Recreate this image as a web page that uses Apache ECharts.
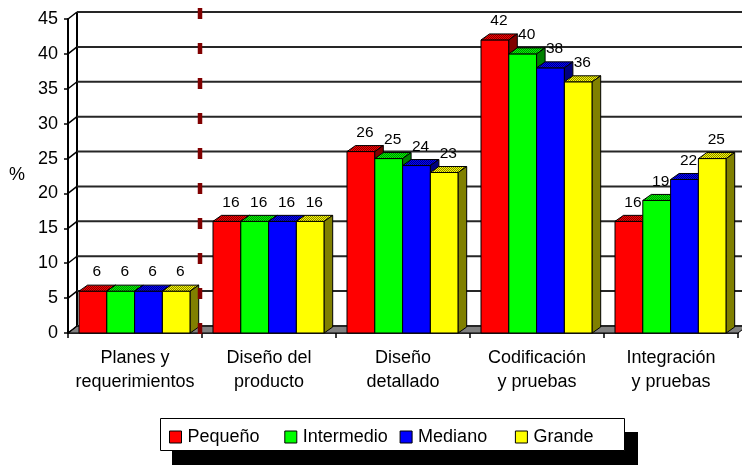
<!DOCTYPE html>
<html>
<head>
<meta charset="utf-8">
<script src="https://cdn.jsdelivr.net/npm/echarts@6/dist/echarts.min.js"></script>
<style>
  html, body { margin: 0; padding: 0; background: #fff; }
  #chart { width: 742px; height: 465px; }
</style>
</head>
<body>
<div id="chart"></div>
<script>
// Phases of the development cycle and the share of effort (%) by project size
const categories = [
  'Planes y\nrequerimientos',
  'Diseño del\nproducto',
  'Diseño\ndetallado',
  'Codificación\ny pruebas',
  'Integración\ny pruebas'
];
const seriesNames = ['Pequeño', 'Intermedio', 'Mediano', 'Grande'];
const pequeno    = [6, 16, 26, 42, 16];
const intermedio = [6, 16, 25, 40, 19];
const mediano    = [6, 16, 24, 38, 22];
const grande     = [6, 16, 23, 36, 25];
const yTicks     = [0, 5, 10, 15, 20, 25, 30, 35, 40, 45];
const dividerAfter = 0; // dashed marker sits after this phase

const seriesValues = [pequeno, intermedio, mediano, grande];

const FONT = '"Liberation Sans", Arial, sans-serif';
const faceColors  = ['#ff0000', '#00ff00', '#0000ff', '#ffff00'];
const shadeColors = ['#800000', '#008000', '#000080', '#808000'];
const WALL_DX = 9, WALL_DY = -7;   // depth of the back wall
const BAR_DX = 8.5, BAR_DY = -6;   // depth of each column
const GAP_FRAC = 11 / 134, BAR_FRAC = 27.8 / 134;
const LEGEND_LEFT = 169, LEGEND_SLOT = 115.3;

// Checkered fill for the column tops
function dither(light, dark) {
  const c = document.createElement('canvas');
  c.width = 2; c.height = 2;
  const g = c.getContext('2d');
  g.fillStyle = light; g.fillRect(0, 0, 2, 2);
  g.fillStyle = dark; g.fillRect(0, 0, 1, 1); g.fillRect(1, 1, 1, 1);
  return { image: c, repeat: 'repeat' };
}

function barRenderer(k) {
  const topFill = dither(faceColors[k], shadeColors[k]);
  return function (params, api) {
    const ci = api.value(0), v = api.value(1);
    const base = api.coord([ci, 0]);
    const head = api.coord([ci, v]);
    const cw = api.size([1, 0])[0];
    const w = cw * BAR_FRAC;
    const x = base[0] - cw / 2 + cw * GAP_FRAC + k * w;
    const y0 = base[1], y1 = head[1];
    const edge = { stroke: '#000', lineWidth: 1 };
    return {
      type: 'group',
      children: [
        { type: 'rect', shape: { x: x, y: y1, width: w, height: y0 - y1 },
          style: Object.assign({ fill: faceColors[k] }, edge) },
        { type: 'polygon', shape: { points: [[x, y1], [x + w, y1], [x + w + BAR_DX, y1 + BAR_DY], [x + BAR_DX, y1 + BAR_DY]] },
          style: Object.assign({ fill: topFill }, edge) },
        { type: 'polygon', shape: { points: [[x + w, y1], [x + w + BAR_DX, y1 + BAR_DY], [x + w + BAR_DX, y0 + BAR_DY], [x + w, y0]] },
          style: Object.assign({ fill: shadeColors[k] }, edge) },
        { type: 'text', x: x + w / 2 + 4, y: y1 - 19,
          style: { text: String(v), fill: '#000', fontSize: 15.5, fontFamily: FONT, align: 'center', verticalAlign: 'middle' } }
      ]
    };
  };
}

// Back wall gridlines, side-wall connectors and the floor
function wallRenderer(params, api) {
  const t = api.value(1);
  const cs = params.coordSys;
  const x0 = cs.x, x1 = cs.x + cs.width;
  const y = api.coord([0, t])[1];
  const children = [];
  if (t === yTicks[0]) {
    const yTop = api.coord([0, yTicks[yTicks.length - 1]])[1];
    children.push({ type: 'polygon',
      shape: { points: [[x0, y], [x1, y], [x1 + WALL_DX, y + WALL_DY], [x0 + WALL_DX, y + WALL_DY]] },
      style: { fill: '#808080', stroke: '#000', lineWidth: 1 } });
    children.push({ type: 'line',
      shape: { x1: x0 + WALL_DX, y1: yTop + WALL_DY, x2: x0 + WALL_DX, y2: y + WALL_DY },
      style: { stroke: '#000', lineWidth: 2 } });
  }
  children.push({ type: 'line',
    shape: { x1: x0 + WALL_DX, y1: y + WALL_DY, x2: x1 + WALL_DX + 10, y2: y + WALL_DY },
    style: { stroke: '#262626', lineWidth: 2 } });
  children.push({ type: 'line',
    shape: { x1: x0, y1: y, x2: x0 + WALL_DX, y2: y + WALL_DY },
    style: { stroke: '#000', lineWidth: 1.5 } });
  return { type: 'group', children: children };
}

function dividerRenderer(params, api) {
  const ci = api.value(0);
  const cw = api.size([1, 0])[0];
  const x = api.coord([ci, 0])[0] + cw / 2 - 2;
  const yTop = api.coord([0, yTicks[yTicks.length - 1]])[1] - 11;
  const yBot = api.coord([0, 0])[1] + 7;
  return { type: 'line', shape: { x1: x, y1: yTop, x2: x, y2: yBot },
    style: { stroke: '#800000', lineWidth: 4.5, lineDash: [11, 24] } };
}

const chart = echarts.init(document.getElementById('chart'), null, { renderer: 'canvas' });

const series = [{
  name: 'wall', type: 'custom', z: 1, silent: true,
  data: yTicks.map(t => [0, t]),
  encode: { x: 0, y: 1 },
  renderItem: wallRenderer
}];
seriesValues.forEach((vals, k) => {
  series.push({
    name: seriesNames[k], type: 'custom', z: 2 + k,
    itemStyle: { color: faceColors[k] },
    data: vals.map((v, i) => [i, v]),
    encode: { x: 0, y: 1 },
    renderItem: barRenderer(k)
  });
});
series.push({
  name: 'divider', type: 'custom', z: 10, silent: true,
  data: [[dividerAfter, 0]],
  encode: { x: 0, y: 1 },
  renderItem: dividerRenderer
});

// One legend entry per slot, evenly spaced inside the framed box
const legends = seriesNames.map((name, i) => ({
  data: [name],
  left: LEGEND_LEFT + i * LEGEND_SLOT, top: 428, padding: 0,
  itemWidth: 12, itemHeight: 12, icon: 'rect',
  selectedMode: false,
  itemStyle: { borderColor: '#000', borderWidth: 1 },
  textStyle: { fontSize: 18, fontFamily: FONT, color: '#000', padding: [0, 0, 0, 1] }
}));

chart.setOption({
  backgroundColor: '#fff',
  animation: false,
  title: {
    text: '%', left: 9, top: 166, padding: 0,
    textStyle: { fontSize: 18, fontWeight: 'normal', fontFamily: FONT, color: '#000' }
  },
  grid: { left: 68, right: 4, top: 19, bottom: 132, containLabel: false },
  xAxis: {
    type: 'category',
    data: categories,
    boundaryGap: true,
    axisLine: { lineStyle: { color: '#000', width: 1.5 } },
    axisTick: { show: true, length: 5, lineStyle: { color: '#000', width: 1.5 } },
    axisLabel: { interval: 0, fontSize: 18, fontFamily: FONT, color: '#000', lineHeight: 24, margin: 13 },
    splitLine: { show: false }
  },
  yAxis: {
    type: 'value',
    min: 0, max: 45, interval: 5,
    axisLine: { show: true, lineStyle: { color: '#000', width: 2 } },
    axisTick: { show: true, length: 4, lineStyle: { color: '#000', width: 1.5 } },
    axisLabel: { fontSize: 18, fontFamily: FONT, color: '#000', margin: 10 },
    splitLine: { show: false }
  },
  legend: legends,
  graphic: [
    { type: 'rect', z: -1, shape: { x: 172, y: 432, width: 466, height: 34 }, style: { fill: '#000' } },
    { type: 'rect', z: -1, shape: { x: 160.5, y: 418.5, width: 464, height: 32 }, style: { fill: '#fff', stroke: '#000', lineWidth: 1 } }
  ],
  series: series
});
</script>
</body>
</html>
